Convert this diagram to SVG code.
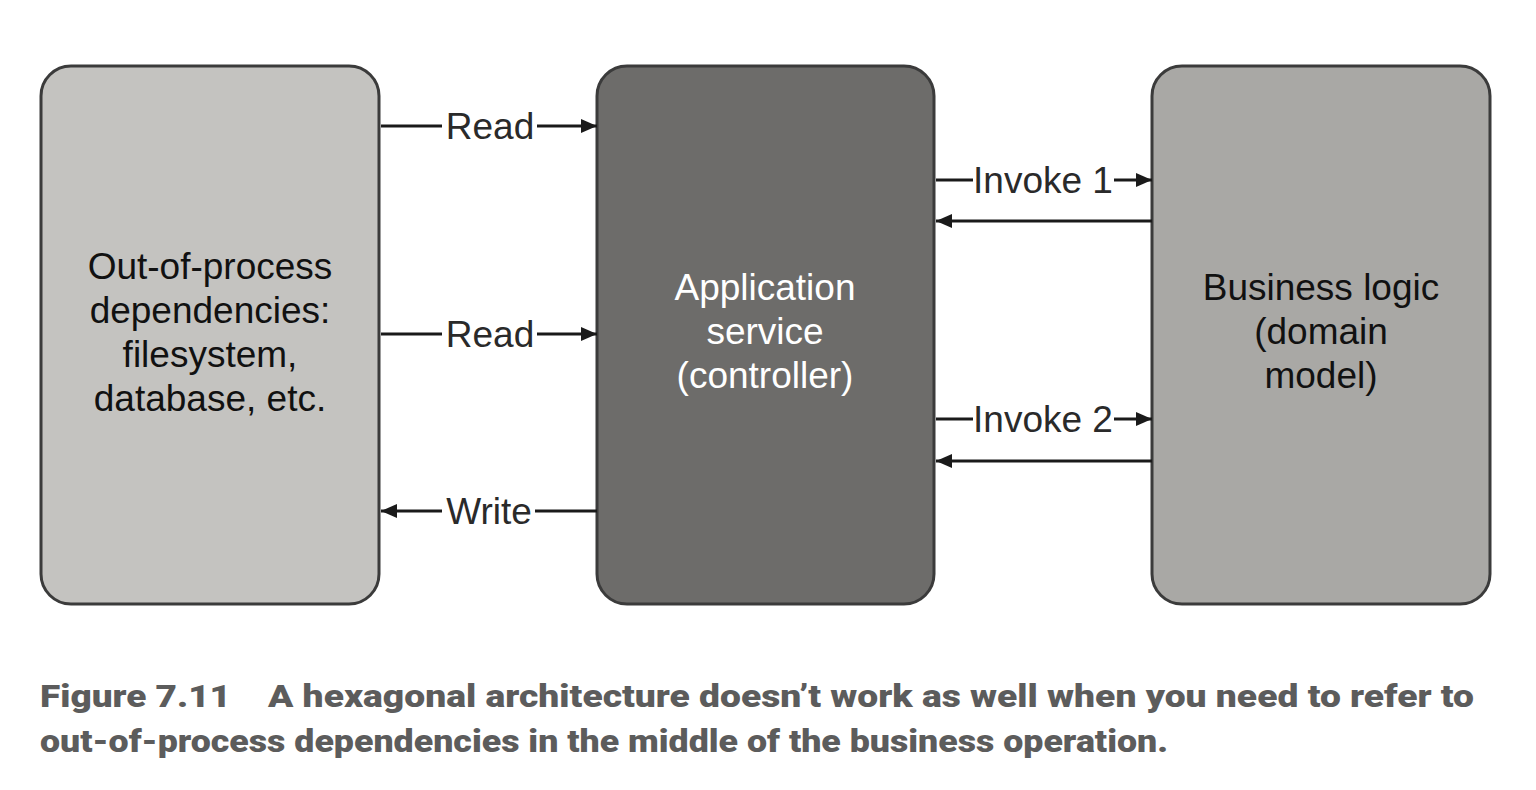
<svg xmlns="http://www.w3.org/2000/svg" width="1536" height="790" viewBox="0 0 1536 790">
<style>
.box{stroke:#3b3b3b;stroke-width:3}
.t{font-family:"Liberation Sans",Arial,sans-serif;font-size:37px;text-anchor:middle}
.lbl{font-family:"Liberation Sans",Arial,sans-serif;font-size:37px;fill:#2a2a2a;text-anchor:middle}
.ln{stroke:#1a1a1a;stroke-width:3;fill:none}
.cap{font-family:Roboto,"Liberation Sans",sans-serif;font-weight:900;font-size:31px;fill:#5c5c5c}
</style>
<defs>
<marker id="ah" viewBox="0 0 16 14" refX="16" refY="7" markerWidth="16" markerHeight="14" markerUnits="userSpaceOnUse" orient="auto">
<path d="M0,0 L16,7 L0,14 Z" fill="#1a1a1a"/>
</marker>
</defs>
<rect width="1536" height="790" fill="#ffffff"/>
<g id="node-deps">
<rect class="box" x="41" y="66" width="338" height="538" rx="30" fill="#c4c3c0"/>
<text class="t" fill="#111" x="210" y="279">Out-of-process</text>
<text class="t" fill="#111" x="210" y="323">dependencies:</text>
<text class="t" fill="#111" x="210" y="367">filesystem,</text>
<text class="t" fill="#111" x="210" y="411">database, etc.</text>
</g>
<g id="node-app">
<rect class="box" x="597" y="66" width="337" height="538" rx="30" fill="#6d6c6a"/>
<text class="t" fill="#ffffff" x="765" y="300">Application</text>
<text class="t" fill="#ffffff" x="765" y="344">service</text>
<text class="t" fill="#ffffff" x="765" y="388">(controller)</text>
</g>
<g id="node-biz">
<rect class="box" x="1152" y="66" width="338" height="538" rx="30" fill="#a9a8a5"/>
<text class="t" fill="#111" x="1321" y="300">Business logic</text>
<text class="t" fill="#111" x="1321" y="344">(domain</text>
<text class="t" fill="#111" x="1321" y="388">model)</text>
</g>
<g id="connectors">
<line class="ln" x1="381" y1="126" x2="442" y2="126"/>
<line class="ln" x1="537" y1="126" x2="597" y2="126" marker-end="url(#ah)"/>
<text class="lbl" x="490" y="139">Read</text>
<line class="ln" x1="381" y1="334" x2="442" y2="334"/>
<line class="ln" x1="537" y1="334" x2="597" y2="334" marker-end="url(#ah)"/>
<text class="lbl" x="490" y="347">Read</text>
<line class="ln" x1="442" y1="511" x2="381" y2="511" marker-end="url(#ah)"/>
<line class="ln" x1="535" y1="511" x2="597" y2="511"/>
<text class="lbl" x="489" y="524">Write</text>
<line class="ln" x1="936" y1="180" x2="973" y2="180"/>
<line class="ln" x1="1114" y1="180" x2="1152" y2="180" marker-end="url(#ah)"/>
<text class="lbl" x="1043" y="193">Invoke 1</text>
<line class="ln" x1="1152" y1="221" x2="936" y2="221" marker-end="url(#ah)"/>
<line class="ln" x1="936" y1="419" x2="973" y2="419"/>
<line class="ln" x1="1114" y1="419" x2="1152" y2="419" marker-end="url(#ah)"/>
<text class="lbl" x="1043" y="432">Invoke 2</text>
<line class="ln" x1="1152" y1="461" x2="936" y2="461" marker-end="url(#ah)"/>
</g>
<text class="cap" x="40" y="707" textLength="191" lengthAdjust="spacingAndGlyphs">Figure 7.11</text>
<text class="cap" x="268" y="707" textLength="1206" lengthAdjust="spacingAndGlyphs">A hexagonal architecture doesn’t work as well when you need to refer to</text>
<text class="cap" x="40" y="752" textLength="1128" lengthAdjust="spacingAndGlyphs">out-of-process dependencies in the middle of the business operation.</text>
</svg>
